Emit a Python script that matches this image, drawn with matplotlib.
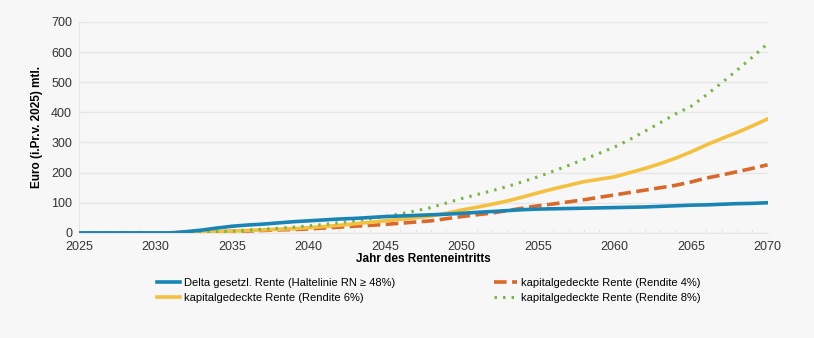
import matplotlib
matplotlib.use("Agg")
import matplotlib.pyplot as plt
from matplotlib.ticker import MultipleLocator

plt.rcParams['font.family'] = ['Liberation Sans', 'DejaVu Sans']

years = list(range(2025, 2071))

# Delta gesetzl. Rente (Haltelinie RN >= 48%)
delta = [0, 0, 0, 0, 0, 0, 0, 4, 9, 16, 22, 26, 29, 33, 37, 40, 43, 46, 48, 51,
         54, 56, 58, 60, 62, 65, 68, 71, 74, 77, 79, 80, 81, 82, 83, 84, 85, 86,
         88, 90, 92, 93, 95, 97, 98, 100]
# kapitalgedeckte Rente, Rendite 4%
r4 = [0, 0, 0, 0, 0, 0, 0, 1, 2, 3, 5, 6, 8, 10, 11, 13, 16, 19, 22, 25,
      28, 32, 36, 40, 47, 54, 60, 66, 74, 82, 90, 96, 103, 110, 118, 126, 134,
      142, 150, 158, 169, 182, 192, 203, 214, 226]
# Rendite 6%
r6 = [0, 0, 0, 0, 0, 0, 0, 1, 2, 4, 6, 8, 10, 12, 14, 17, 21, 25, 30, 35,
      40, 45, 50, 56, 65, 76, 85, 95, 106, 119, 133, 146, 158, 170, 178, 186,
      200, 214, 230, 248, 269, 292, 313, 333, 355, 378]
# Rendite 8%
r8 = [0, 0, 0, 0, 0, 0, 0, 1, 2, 4, 6, 9, 12, 15, 19, 23, 28, 34, 40, 47,
      54, 63, 73, 84, 99, 114, 127, 140, 154, 170, 186, 205, 224, 244, 264,
      285, 310, 338, 366, 395, 420, 458, 498, 540, 583, 628]

labels = ["Delta gesetzl. Rente (Haltelinie RN \u2265 48%)",
          "kapitalgedeckte Rente (Rendite 4%)",
          "kapitalgedeckte Rente (Rendite 6%)",
          "kapitalgedeckte Rente (Rendite 8%)"]

bg = "#f7f7f7"
fig = plt.figure(figsize=(8.14, 3.38), dpi=100, facecolor=bg)
ax = fig.add_axes([0.097, 0.311, 0.846, 0.624], facecolor=bg)

l4, = ax.plot(years, r4, color="#d8692c", lw=2.6, ls=(0, (3.5, 1.5)), zorder=3)
l0, = ax.plot(years, delta, color="#1a85b5", lw=2.6, zorder=4)
l6, = ax.plot(years, r6, color="#f4c040", lw=2.6, zorder=3)
l8, = ax.plot(years, r8, color="#78b446", lw=2.2, ls=(0, (0.8, 2.0)), zorder=3)

ax.set_xlim(2025, 2070)
ax.set_ylim(0, 700)
ax.set_xticks(range(2025, 2071, 5))
ax.xaxis.set_minor_locator(MultipleLocator(1))
ax.set_yticks(range(0, 701, 100))
ax.grid(axis="y", color="#e6e6e6", lw=1)
ax.set_axisbelow(True)
for s in ["top", "right"]:
    ax.spines[s].set_visible(False)
ax.spines["left"].set_color("#e6e6e6")
ax.spines["bottom"].set_color("#e6e6e6")
ax.tick_params(axis="both", length=0, labelsize=9, colors="#333333")
ax.tick_params(axis="x", pad=6)
ax.tick_params(axis="y", pad=5)
ax.tick_params(axis="x", which="minor", length=3, color="#e0e0e0", direction="in")

ax.set_ylabel("Euro (i.Pr.v. 2025) mtl.", fontsize=8.5, fontweight="bold", labelpad=6)
ax.set_xlabel("Jahr des Renteneintritts", fontsize=8.5, fontweight="bold", labelpad=0)

legkw = dict(loc="upper left", frameon=False, fontsize=8, handlelength=2.1,
             handletextpad=0.3, labelspacing=0.45, borderpad=0, borderaxespad=0)
fig.legend([l0, l6], [labels[0], labels[2]], bbox_to_anchor=(157 / 814, 1 - 278 / 338), **legkw)
fig.legend([l4, l8], [labels[1], labels[3]], bbox_to_anchor=(494 / 814, 1 - 278 / 338), **legkw)

fig.savefig("out.png", dpi=100, facecolor=bg)
